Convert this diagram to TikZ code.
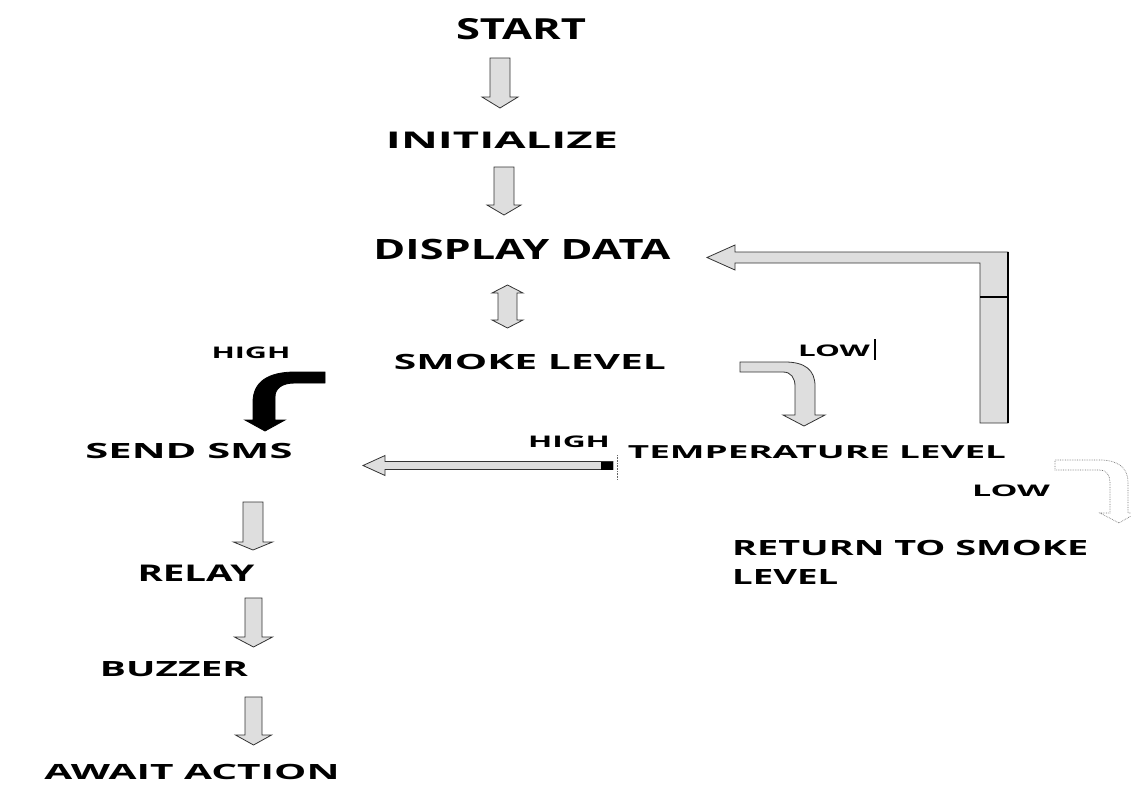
\documentclass[tikz,border=0pt]{standalone}
\usepackage{fontspec}
\setmainfont{Open Sans}
\usepackage{graphicx}
\usetikzlibrary{calc}
\tikzset{
  lbl/.style={inner sep=0pt, font=\bfseries},
  garrow/.style={fill=black!13, draw=black!80, line width=0.8pt, line join=miter},
  barrow/.style={fill=black, draw=black, line width=0.8pt, line join=miter},
  farrow/.style={fill=white, draw=black!55, line width=0.7pt, densely dotted},
}
\newcommand{\fitw}[3]{\fontsize{#1}{#1}\selectfont\resizebox{#2pt}{\height}{#3}}
% vertical block arrow: style, top, tip, shaft half width, head half width, head length
\newcommand{\vblock}[6][garrow]{%
  \draw[#1] ($(#2)+(-#4,0)$) -- ($(#2)+(#4,0)$) -- ($(#3)+(#4,-#6)$) -- ($(#3)+(#5,-#6)$)
    -- (#3) -- ($(#3)+(-#5,-#6)$) -- ($(#3)+(-#4,-#6)$) -- cycle;}
\begin{document}
\begin{tikzpicture}[x=1pt,y=-1pt]
\useasboundingbox (0,0) rectangle (1131,806);

% ---- labels ----
\node[lbl] (start) at (521,29) {\fitw{29}{130}{START}};
\node[lbl] (init)  at (502,140) {\fitw{23}{232}{INITIALIZE}};
\node[lbl] (disp)  at (522,249) {\fitw{28}{297}{DISPLAY DATA}};
\node[lbl] (highA) at (251,353) {\fitw{16}{79}{HIGH}};
\node[lbl] (smoke) at (530,362) {\fitw{21}{272}{SMOKE LEVEL}};
\node[lbl] (lowA)  at (834,351) {\fitw{16}{72}{LOW}};
\node[lbl] (sms)   at (189,451) {\fitw{21}{207}{SEND SMS}};
\node[lbl] (highB) at (569,442) {\fitw{16}{82}{HIGH}};
\node[lbl] (temp)  at (817,452) {\fitw{18}{378}{TEMPERATURE LEVEL}};
\node[lbl] (lowB)  at (1011,491) {\fitw{16}{78}{LOW}};
\node[lbl, anchor=west] (ret1) at (732,548) {\fitw{21}{356}{RETURN TO SMOKE}};
\node[lbl, anchor=west] (ret2) at (732,577) {\fitw{21}{106}{LEVEL}};
\node[lbl] (relay) at (196,573) {\fitw{23}{117}{RELAY}};
\node[lbl] (buzz)  at (174,669) {\fitw{21}{148}{BUZZER}};
\node[lbl] (await) at (192,772) {\fitw{21}{295}{AWAIT ACTION}};

% ---- straight down block arrows ----
\coordinate (a1t) at (500,58);   \coordinate (a1b) at (500,108);
\coordinate (a2t) at (504,167);  \coordinate (a2b) at (504,215);
\coordinate (a4t) at (253,502);  \coordinate (a4b) at (253,550);
\coordinate (a5t) at (253.5,598);\coordinate (a5b) at (253.5,647);
\coordinate (a6t) at (253.5,697);\coordinate (a6b) at (253.5,745);
\vblock{a1t}{a1b}{10}{18}{11}
\vblock{a2t}{a2b}{10}{17}{10}
\vblock{a4t}{a4b}{10}{19.5}{8}
\vblock{a5t}{a5b}{8.5}{19}{10}
\vblock{a6t}{a6b}{8.5}{18}{10}

% ---- double arrow between DISPLAY DATA and SMOKE LEVEL ----
\coordinate (dt) at (507.5,285); \coordinate (db) at (507.5,328);
\draw[garrow] (dt) -- ($(dt)+(15.5,8)$) -- ($(dt)+(9.5,8)$) -- ($(db)+(9.5,-8)$) -- ($(db)+(15.5,-8)$)
  -- (db) -- ($(db)+(-15.5,-8)$) -- ($(db)+(-9.5,-8)$) -- ($(dt)+(-9.5,8)$) -- ($(dt)+(-15.5,8)$) -- cycle;

% ---- black bent arrow (HIGH from smoke level to send sms) ----
\draw[barrow] (325,372) -- (295,372) .. controls (268,372) and (253,382) .. (253,402) -- (253,420)
  -- (245,420) -- (265,431) -- (285,420) -- (275,420) -- (275,397)
  .. controls (275,389) and (281,383) .. (295,383) -- (325,383) -- cycle;

% ---- gray bent arrow (LOW from smoke level to temperature level) ----
\draw[garrow] (740,362) -- (785,362) .. controls (805,362) and (815,370) .. (815,386) -- (815,415)
  -- (825,415) -- (804,426) -- (783,415) -- (795,415) -- (795,386)
  .. controls (795,378) and (791,372) .. (783,372) -- (740,372) -- cycle;
\coordinate (barT) at (875,339); \coordinate (barB) at (875,360);
\draw[line width=1.4pt] (barT) -- (barB);

% ---- HIGH arrow from temperature level to send sms ----
\coordinate (hT) at (613,465.5); \coordinate (hH) at (363,465.5);
\draw[garrow] ($(hT)+(0,-4)$) -- ($(hH)+(22,-4)$) -- ($(hH)+(22,-10)$) -- (hH)
  -- ($(hH)+(22,10)$) -- ($(hH)+(22,4)$) -- ($(hT)+(0,4)$) -- cycle;
\fill ($(hT)+(-12,-4)$) rectangle ($(hT)+(0,4)$);
\coordinate (vT) at (617,455); \coordinate (vB) at (617,480);
\draw[black!60, line width=0.6pt, densely dotted] (vT) -- (vB);

% ---- loop arrow from temperature level back to display data ----
\coordinate (lH) at (707,257.5);
\draw[garrow] (1008,252) -- (1008,423) -- (980,423) -- (980,263) -- (735,263) -- (735,270)
  -- (lH) -- (735,245) -- (735,252) -- cycle;
\draw[line width=2pt] (1008,252) -- (1008,423);
\draw[line width=1.2pt] (980,297) -- (1008,297);

% ---- faint bent arrow (LOW to return to smoke level) ----
\draw[farrow] (1055,460) -- (1100,460) .. controls (1118,460) and (1128,468) .. (1128,482) -- (1128,513)
  -- (1136,513) -- (1119,523) -- (1100,513) -- (1110,513) -- (1110,482)
  .. controls (1110,475) and (1106,470) .. (1100,470) -- (1055,470) -- cycle;
\end{tikzpicture}
\end{document}
